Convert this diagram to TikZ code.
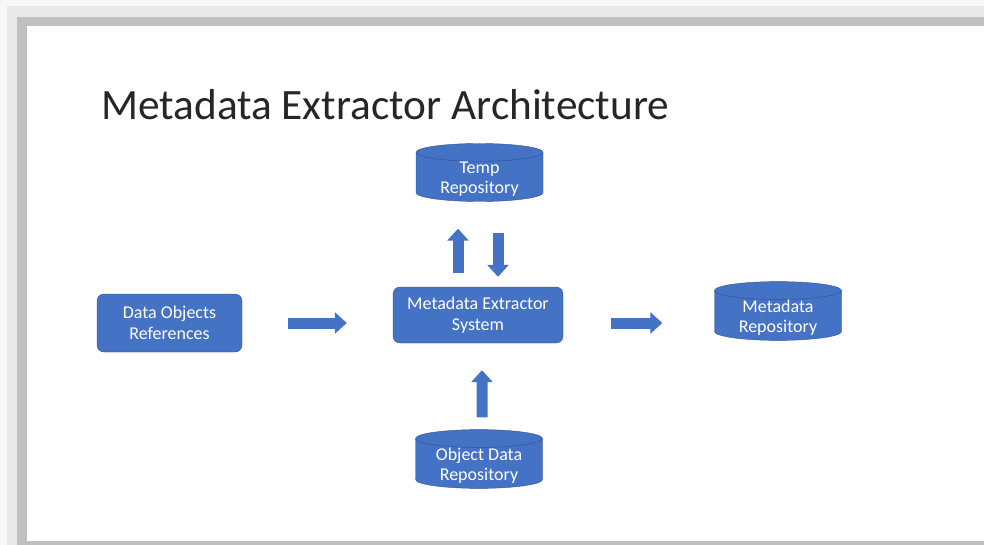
\documentclass[tikz,border=0pt]{standalone}
\usepackage{fontspec}
\setmainfont{Carlito}
\definecolor{slideblue}{HTML}{4472C4}
\definecolor{slideedge}{HTML}{2F528F}
\definecolor{shadelight}{HTML}{E9E9E9}
\definecolor{shadedark}{HTML}{C0C0C0}
\definecolor{titlegrey}{HTML}{262626}
\usetikzlibrary{positioning, shapes.geometric, arrows.meta}

\begin{document}
\begin{tikzpicture}[x=1pt, y=-1pt, every node/.style={font=\fontsize{18}{20.5}\selectfont, text=white, align=center},
    box/.style={draw=slideedge, fill=slideblue, rounded corners=7pt, inner sep=0pt},
    % fixed text width keeps every cap the same size, the end skip drops the text below the cap
    repo/.style={draw=slideedge, fill=slideblue, cylinder, shape border rotate=90, aspect=0.14, inner sep=0pt, text width=127pt, align=flush center, minimum height=58pt, anchor=shape center, execute at end node={\endgraf\vspace{-4pt}}},
    blockarrow/.style={draw=slideblue, line width=11pt, -{Triangle[length=12pt, width=21pt]}}]
    \useasboundingbox (0,0) rectangle (984,545);

    % slide frame with its drop shadow
    \fill [black!3] (0,0) rectangle (984,545);
    \fill [shadelight] (7,6) rectangle (984,545);
    \fill [shadedark] (17,17) rectangle (984,545);
    \fill [white] (27,26) rectangle (984,541);

    \node [anchor=base west, inner sep=0pt, text=titlegrey, font=\fontsize{43.3}{50}\selectfont] (title) at (101,120) {Metadata Extractor Architecture};

    \node [box, minimum width=145pt, minimum height=58pt] (dor) at (169.5,323) {Data Objects\\References};
    \node [box, minimum width=170pt, minimum height=56pt] (mes) at (478,315) {Metadata Extractor\\System};

    \node [repo] (temp) at (479.5,172.5) {Temp\\Repository};
    \node [repo] (mdr) at (778,311) {Metadata\\Repository};
    \node [repo] (odr) at (479,459) {Object Data\\Repository};

    \draw [blockarrow, shorten <=46pt, shorten >=46pt] (dor.east) -- (dor.east -| mes.west);
    \draw [blockarrow, shorten <=48pt, shorten >=52pt] (mes.east |- dor.east) -- (mdr.west |- dor.east);
    \draw [blockarrow, shorten <=14pt, shorten >=27pt] ([xshift=-20pt]mes.north) -- ([xshift=-21.5pt]temp.south);
    \draw [blockarrow, shorten <=31pt, shorten >=10pt] ([xshift=18.5pt]temp.south) -- ([xshift=20pt]mes.north);
    \draw [blockarrow, shorten <=12pt, shorten >=27pt] ([xshift=3pt]odr.north) -- ([xshift=4pt]mes.south);
\end{tikzpicture}
\end{document}
